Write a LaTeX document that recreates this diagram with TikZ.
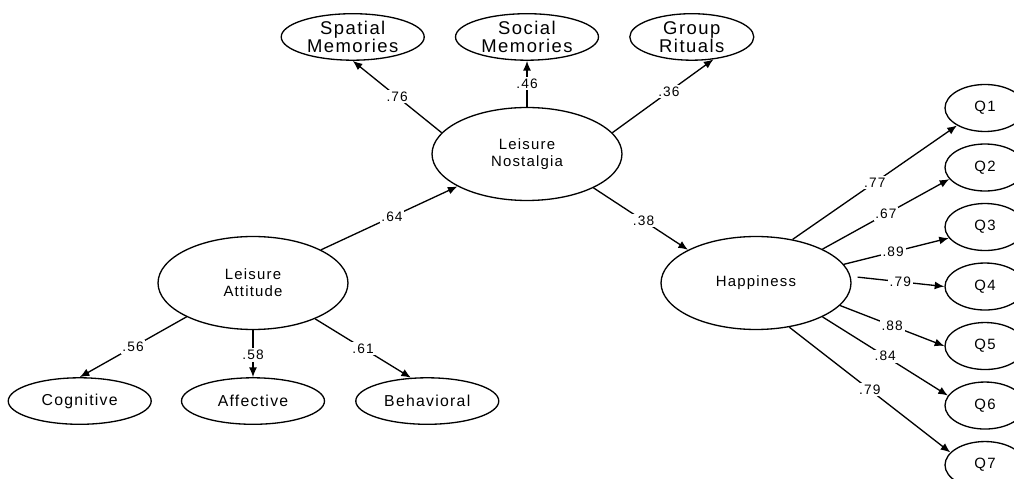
\documentclass[tikz,border=0pt]{standalone}
\usepackage{fontspec}
\setmainfont[LetterSpace=8]{Liberation Sans}
\usetikzlibrary{shapes, arrows, arrows.meta}
\usetikzlibrary{positioning}
\usetikzlibrary{shapes.geometric}

\tikzstyle{latent} = [ellipse, draw=black, line width=0.75pt, inner sep=-12pt, minimum width=3.8cm, minimum height=1.86cm, align=center, font=\fontsize{8.5}{9.8}\selectfont]
\tikzstyle{facet} = [ellipse, draw=black, line width=0.75pt, inner sep=-12pt, minimum width=2.86cm, minimum height=0.93cm, align=center, font=\fontsize{10.5}{10.3}\selectfont]
\tikzstyle{attfacet} = [facet, font=\fontsize{9}{10}\selectfont]
\tikzstyle{item} = [ellipse, draw=black, line width=0.75pt, inner sep=-8pt, minimum width=1.6cm, minimum height=0.94cm, font=\fontsize{8.5}{9.8}\selectfont]
\tikzstyle{arrow} = [line width=0.75pt,->,>={Latex[length=5.5pt,width=4.5pt]}]
\tikzstyle{coef} = [fill=white, inner sep=1pt, font=\fontsize{7.8}{8}\selectfont]

\begin{document}
\begin{tikzpicture}[x=0.02cm, y=-0.02cm]
    \clip (0,0) rectangle (1014,479);

    % Nodes
    \node (nostalgia) [latent] at (527,154) {Leisure\\Nostalgia};
    \node (attitude) [latent] at (253,283) {Leisure\\Attitude};
    \node (happiness) [latent] at (756,283) {Happiness};
    \node (social) [facet, above=0.92cm of nostalgia] {Social\\Memories};
    \node (spatial) [facet, left=0.6cm of social] {Spatial\\Memories};
    \node (rituals) [facet, minimum width=2.48cm, right=0.6cm of social] {Group\\Rituals};
    \node (affective) [attfacet, below=0.94cm of attitude] {Affective};
    \node (cognitive) [attfacet, left=0.58cm of affective] {Cognitive};
    \node (behavioral) [attfacet, right=0.6cm of affective] {Behavioral};
    \node (q1) [item] at (985,108) {Q1};
    \node (q2) [item, below=0.224cm of q1] {Q2};
    \node (q3) [item, below=0.224cm of q2] {Q3};
    \node (q4) [item, below=0.224cm of q3] {Q4};
    \node (q5) [item, below=0.224cm of q4] {Q5};
    \node (q6) [item, below=0.224cm of q5] {Q6};
    \node (q7) [item, below=0.224cm of q6] {Q7};

    % Arrows
    \draw [arrow] (nostalgia.166) -- node[coef] {.76} (spatial.south);
    \draw [arrow] (nostalgia.north) -- node[coef] {.46} (social.south);
    \draw [arrow] (nostalgia.14) -- node[coef, pos=0.56] {.36} (rituals.-46);
    \draw [arrow] (attitude.26) -- node[coef, pos=0.52] {.64} (nostalgia.205);
    \draw [arrow] (nostalgia.-27) -- node[coef, pos=0.53] {.38} (happiness.154);
    \draw [arrow] (attitude.207) -- node[coef] {.56} (cognitive.north);
    \draw [arrow] (attitude.south) -- node[coef, pos=0.53] {.58} (affective.north);
    \draw [arrow] (attitude.-30) -- node[coef] {.61} (behavioral.125);
    \draw [arrow] (happiness.50) -- node[coef] {.77} (q1.212);
    \draw [arrow] (happiness.27) -- node[coef] {.67} (q2.198);
    \draw [arrow] (happiness.12) -- node[coef, pos=0.47] {.89} (q3.197);
    \draw [arrow, shorten <=4pt] (happiness.4) -- node[coef, pos=0.53] {.79} (q4.west);
    \draw [arrow] (happiness.-15) -- node[coef] {.88} (q5.west);
    \draw [arrow] (happiness.-27) -- node[coef] {.84} (q6.165);
    \draw [arrow] (happiness.-53) -- node[coef] {.79} (q7.160);

\end{tikzpicture}
\end{document}
